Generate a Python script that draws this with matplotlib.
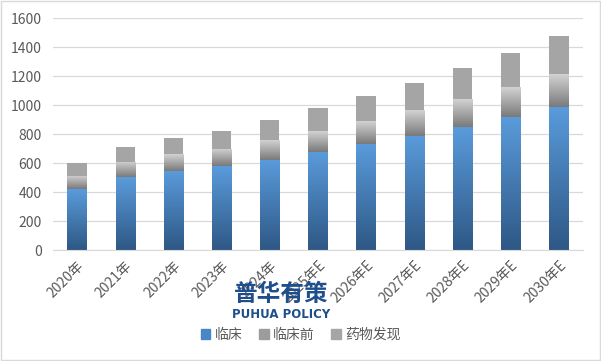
import numpy as np
import matplotlib.pyplot as plt
from matplotlib.colors import LinearSegmentedColormap
from matplotlib.patches import Rectangle

plt.rcParams['font.family'] = ['Noto Sans CJK SC', 'DejaVu Sans']

years = ['2020年', '2021年', '2022年', '2023年', '2024年', '2025年E', '2026年E',
         '2027年E', '2028年E', '2029年E', '2030年E']
clinical = [419, 502, 548, 578, 624, 679, 734, 790, 852, 921, 990]
preclinical = [92, 106, 115, 120, 136, 143, 157, 177, 191, 205, 225]
discovery = [88, 103, 110, 124, 138, 159, 173, 186, 214, 234, 263]
names = ['临床', '临床前', '药物发现']

fig = plt.figure(figsize=(6.01, 3.61), dpi=100)
ax = fig.add_axes([0.088, 0.307, 0.882, 0.643])

x = np.arange(len(years))
w = 0.4
clin = np.array(clinical)
pre = np.array(preclinical)
disc = np.array(discovery)

b1 = ax.bar(x, clin, w, color='#4A86C5', label=names[0], zorder=2)
b2 = ax.bar(x, pre, w, bottom=clin, color='#A0A0A0', label=names[1], zorder=2)
b3 = ax.bar(x, disc, w, bottom=clin + pre, color='#A5A5A5', label=names[2], zorder=2)

# gradient fills (top colour, bottom colour) clipped to each bar
grads = [
    (b1, '#5A9BDB', '#2E5885'),
    (b2, '#D2D2D2', '#7A7A7A'),
]
for bars, ctop, cbot in grads:
    cmap = LinearSegmentedColormap.from_list('g', [cbot, ctop])
    for bar in bars:
        x0, y0 = bar.get_x(), bar.get_y()
        x1, y1 = x0 + bar.get_width(), y0 + bar.get_height()
        img = np.linspace(1, 0, 100).reshape(-1, 1)
        im = ax.imshow(img, cmap=cmap, extent=[x0, x1, y0, y1], aspect='auto',
                       origin='upper', zorder=2.5, vmin=0, vmax=1)
        im.set_clip_path(bar)

ax.set_xlim(-0.5, len(years) - 0.5)
ax.set_ylim(0, 1600)
ax.set_yticks(range(0, 1601, 200))
ax.grid(axis='y', color='#D9D9D9', linewidth=0.9, zorder=0)
for s in ['top', 'right', 'left']:
    ax.spines[s].set_visible(False)
ax.spines['bottom'].set_color('#D9D9D9')
ax.tick_params(axis='both', length=0, colors='#595959', labelsize=10)
ax.tick_params(axis='y', pad=8)
ax.set_xticks(x)
ax.set_xticklabels(years, rotation=45, ha='right', va='top', rotation_mode='anchor')
ax.tick_params(axis='x', pad=6)

handles = [Rectangle((0, 0), 1, 1, color=c) for c in ['#4A86C5', '#9C9C9C', '#A5A5A5']]
fig.legend(handles, names, loc='center', bbox_to_anchor=(0.5, 0.072), ncol=3,
           frameon=False, fontsize=10, handlelength=0.7, handleheight=0.7,
           handletextpad=0.3, columnspacing=1.2, labelcolor='#595959')

# watermark
fig.text(0.468, 0.185, '普华有策', fontsize=17, fontweight='bold', color='#1F4E8C',
         ha='center', va='center', zorder=10)
fig.text(0.468, 0.128, 'PUHUA POLICY', fontsize=8.5, fontweight='bold', color='#1F4E8C',
         ha='center', va='center', zorder=10, family='DejaVu Sans')

fig.patches.append(Rectangle((0.002, 0.003), 0.996, 0.994, transform=fig.transFigure,
                             fill=False, edgecolor='#D9D9D9', linewidth=1))

fig.savefig('out.png', dpi=100)
